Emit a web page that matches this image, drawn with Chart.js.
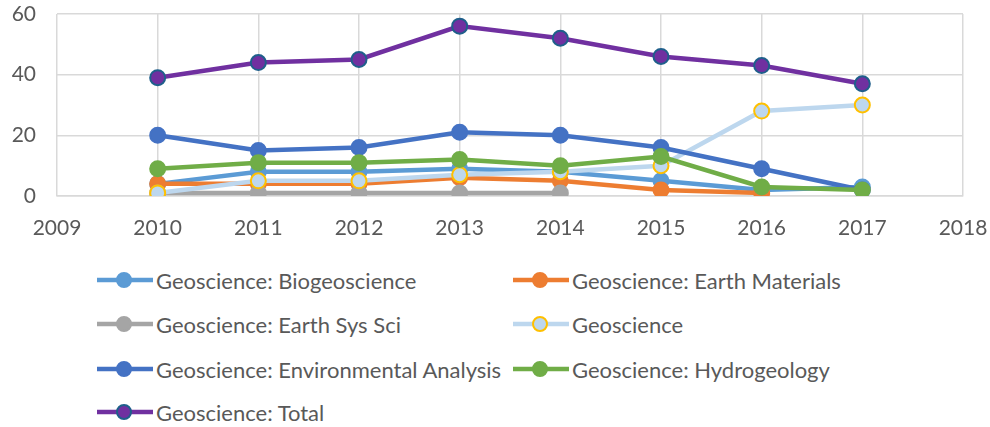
<!DOCTYPE html>
<html>
<head>
<meta charset="utf-8">
<script src="https://cdn.jsdelivr.net/npm/chart.js@4/dist/chart.umd.min.js"></script>
<style>
  body { margin: 0; background: #fff; }
  #wrap { position: relative; width: 990px; height: 427px; }
  #chart { position: absolute; left: 0; top: 0; }
  .legend-item { position: absolute; display: flex; align-items: center; font-family: Lato, sans-serif; font-size: 22px; color: #595959; white-space: nowrap; }
  .legend-item canvas { margin-right: 3px; }
</style>
</head>
<body>
<div id="wrap">
  <canvas id="chart" width="990" height="250"></canvas>
  <div id="legend"></div>
</div>
<script>
// data
const years = [2010, 2011, 2012, 2013, 2014, 2015, 2016, 2017];
const biogeoscience = [4, 8, 8, 9, 8, 5, 2, 3];
const earthMaterials = [4, 4, 4, 6, 5, 2, 1, null];
const earthSysSci = [1, 1, 1, 1, 1, null, null, null];
const geoscience = [1, 5, 5, 7, 8, 10, 28, 30];
const environmentalAnalysis = [20, 15, 16, 21, 20, 16, 9, 2];
const hydrogeology = [9, 11, 11, 12, 10, 13, 3, 2];
const total = [39, 44, 45, 56, 52, 46, 43, 37];
const yTicks = [0, 20, 40, 60];

const series = [
    { label: 'Geoscience: Biogeoscience', values: biogeoscience, color: '#5b9bd5', fill: '#5b9bd5', border: '#5b9bd5' },
    { label: 'Geoscience: Earth Materials', values: earthMaterials, color: '#ed7d31', fill: '#ed7d31', border: '#ed7d31' },
    { label: 'Geoscience: Earth Sys Sci', values: earthSysSci, color: '#a5a5a5', fill: '#a5a5a5', border: '#a5a5a5' },
    { label: 'Geoscience', values: geoscience, color: '#bdd7ee', fill: '#bdd7ee', border: '#ffc000' },
    { label: 'Geoscience: Environmental Analysis', values: environmentalAnalysis, color: '#4472c4', fill: '#4472c4', border: '#4472c4' },
    { label: 'Geoscience: Hydrogeology', values: hydrogeology, color: '#70ad47', fill: '#70ad47', border: '#70ad47' },
    { label: 'Geoscience: Total', values: total, color: '#7030a0', fill: '#7030a0', border: '#1f5f8b' }
];

const datasets = series.map((s, i) => ({
    label: s.label,
    data: years.map((yr, j) => ({ x: yr, y: s.values[j] })),
    borderColor: s.color,
    backgroundColor: s.fill,
    pointBackgroundColor: s.fill,
    pointBorderColor: s.border,
    pointBorderWidth: 2,
    pointRadius: 7.5,
    pointHoverRadius: 7.5,
    borderWidth: 4.5,
    tension: 0,
    spanGaps: false,
    order: series.length - i   // later series on top, as in the original
}));

const tickFont = { family: 'Lato, sans-serif', size: 21 };

const chart = new Chart(document.getElementById('chart').getContext('2d'), {
    type: 'line',
    data: { datasets: datasets },
    options: {
        responsive: false,
        animation: false,
        layout: { padding: { left: 0, right: 27, top: 14, bottom: 0 } },
        plugins: { legend: { display: false }, tooltip: { enabled: false } },
        scales: {
            x: {
                type: 'linear',
                min: 2009,
                max: 2018,
                ticks: { stepSize: 1, color: '#595959', font: tickFont, padding: 20, callback: v => String(v) },
                grid: { color: '#d9d9d9', lineWidth: 1.5, drawTicks: false },
                border: { color: '#d9d9d9', width: 1.5 },
                afterFit: scale => {
                    scale.height = 54;
                    scale.paddingLeft = 0;
                    scale.paddingRight = 0;
                }
            },
            y: {
                min: 0,
                max: 60,
                afterBuildTicks: scale => { scale.ticks = yTicks.map(v => ({ value: v })); },
                ticks: { color: '#595959', font: tickFont, padding: 21 },
                grid: { color: '#d9d9d9', lineWidth: 1.5, drawTicks: false },
                border: { display: false },
                afterFit: scale => {
                    scale.width = 57;
                    scale.paddingTop = 0;
                    scale.paddingBottom = 0;
                }
            }
        }
    }
});

// Excel-style legend in two columns
const legendPos = [
    [97, 280], [513, 280],
    [97, 324], [513, 324],
    [97, 369], [513, 369],
    [97, 412]
];
const legend = document.getElementById('legend');
series.forEach((s, i) => {
    const item = document.createElement('div');
    item.className = 'legend-item';
    item.style.left = legendPos[i][0] + 'px';
    item.style.top = (legendPos[i][1] - 14) + 'px';
    item.style.height = '28px';
    const c = document.createElement('canvas');
    c.width = 56; c.height = 20;
    const g = c.getContext('2d');
    g.strokeStyle = s.color;
    g.lineWidth = 4.5;
    g.beginPath(); g.moveTo(0, 10); g.lineTo(56, 10); g.stroke();
    g.fillStyle = s.fill;
    g.strokeStyle = s.border;
    g.lineWidth = 2;
    g.beginPath(); g.arc(27, 10, 7, 0, Math.PI * 2); g.fill(); g.stroke();
    item.appendChild(c);
    const t = document.createElement('span');
    t.textContent = s.label;
    item.appendChild(t);
    legend.appendChild(item);
});
</script>
</body>
</html>
